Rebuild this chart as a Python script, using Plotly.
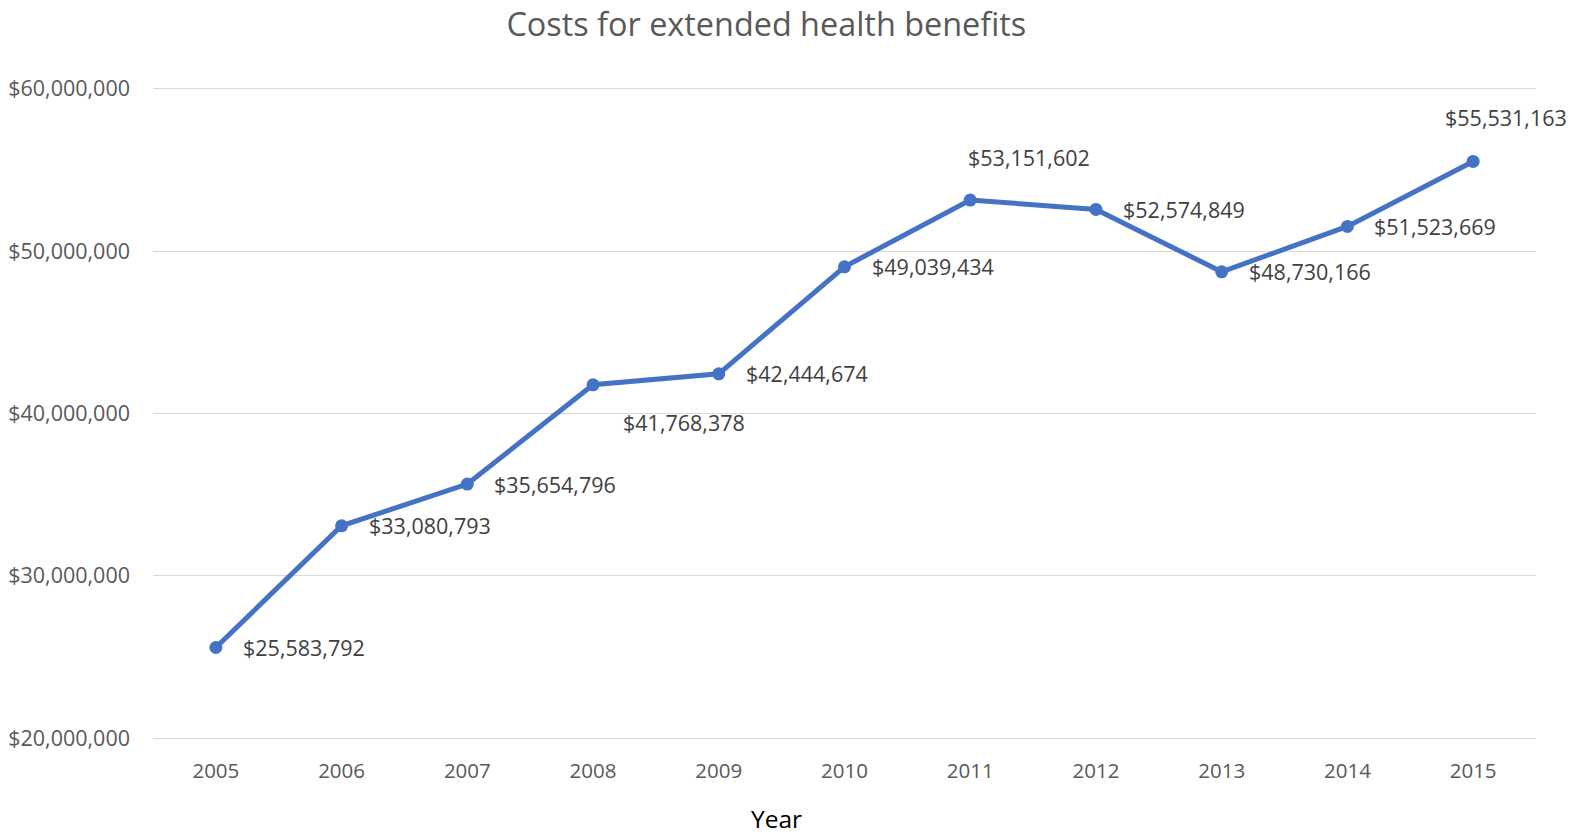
import plotly.graph_objects as go

years = [2005, 2006, 2007, 2008, 2009, 2010, 2011, 2012, 2013, 2014, 2015]
costs = [25583792, 33080793, 35654796, 41768378, 42444674, 49039434,
         53151602, 52574849, 48730166, 51523669, 55531163]
y_ticks = [20000000, 30000000, 40000000, 50000000, 60000000]

# label offsets (pixels) relative to each point
label_dx = [88, 88, 88, 91, 88, 88, 59, 88, 88, 88, 33]
label_dy = [0, 0, 0, -38, 0, 0, 43, 0, 0, 0, 44]

FONT = "Open Sans"
GREY = "#595959"

fig = go.Figure()
fig.add_trace(go.Scatter(
    x=years, y=costs, mode="lines+markers",
    line=dict(color="#4472C4", width=5),
    marker=dict(color="#4472C4", size=13),
    hoverinfo="skip", showlegend=False,
))

for xv, yv, dx, dy in zip(years, costs, label_dx, label_dy):
    fig.add_annotation(
        x=xv, y=yv, text=f"${yv:,.0f}", showarrow=False,
        xshift=dx, yshift=dy, xanchor="center", yanchor="middle",
        font=dict(family=FONT, size=21.5, color="#404040"),
    )

fig.add_annotation(
    x=0.4505, xref="paper", y=0, yref="paper", yanchor="middle",
    yshift=-75, text="Year", showarrow=False,
    font=dict(family=FONT, size=24.5, color="black"),
)

fig.update_layout(
    width=1572, height=835,
    margin=dict(l=153, r=36, t=84, b=92, autoexpand=False),
    paper_bgcolor="white", plot_bgcolor="white",
    title=dict(text="Costs for extended health benefits", x=0.4875, xanchor="center",
               y=0.971, yanchor="middle",
               font=dict(family=FONT, size=32.4, color=GREY)),
    xaxis=dict(
        range=[2004.5, 2015.5], tickmode="array", tickvals=years,
        ticktext=[str(y) for y in years],
        showgrid=False, zeroline=False, showline=False, ticks="",
        ticklabelstandoff=13, automargin=False,
        tickfont=dict(family=FONT, size=20.5, color=GREY),
    ),
    yaxis=dict(
        range=[19700000, 60300000], tickmode="array", tickvals=y_ticks,
        ticktext=[f"${v:,.0f}" for v in y_ticks],
        showgrid=True, gridcolor="#D9D9D9", gridwidth=1.3,
        zeroline=False, showline=False, ticks="",
        ticklabelstandoff=22, automargin=False,
        tickfont=dict(family=FONT, size=21.5, color=GREY),
    ),
)

fig.write_html("out.html")
